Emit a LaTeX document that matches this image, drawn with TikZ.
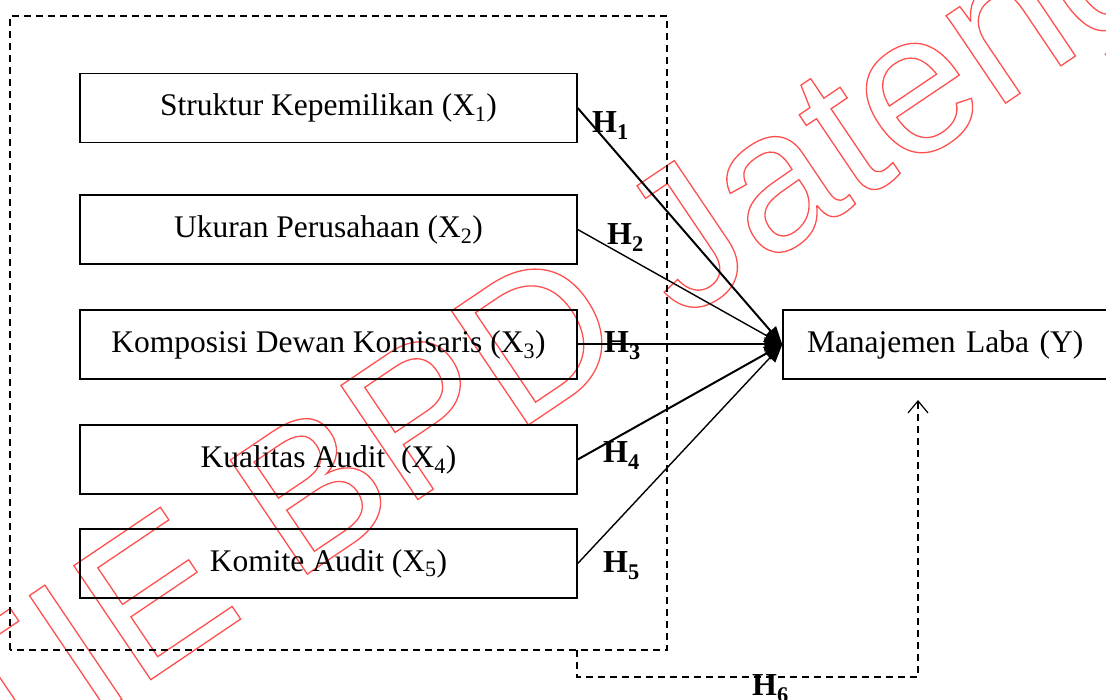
\documentclass[tikz,border=0pt]{standalone}
\usepackage{fontspec}
\setmainfont{Liberation Serif}
\newfontfamily\wmfont{Liberation Sans}
\usetikzlibrary{arrows.meta}
\definecolor{wmred}{RGB}{255,80,80}
\begin{document}
\begin{tikzpicture}[x=1pt,y=1pt,
  varbox/.style={draw, line width=1.4pt, minimum width=497pt, minimum height=69pt, inner sep=0pt,
    font=\fontsize{31.5}{36}\selectfont},
  hlab/.style={anchor=base west, inner sep=0pt, font=\fontsize{32}{36}\selectfont\bfseries},
  thickarr/.style={line width=2pt, -{Triangle[length=18pt,width=14pt]}},
  thinarr/.style={line width=1.4pt, -{Triangle[length=18pt,width=14pt]}},
  dashln/.style={line width=1.3pt, dash pattern=on 7pt off 5pt}
]
\useasboundingbox (0,0) rectangle (1106,699);
\clip (0,0) rectangle (1106,699);

% watermark
\node[rotate=34, anchor=base west, inner sep=0pt, text=wmred,
  font=\wmfont\fontsize{200}{200}\selectfont] (wm) at (-121,-164)
  {\special{pdf:literal direct 1 Tr 1.3 w}STIE BPD Jateng\special{pdf:literal direct 0 Tr}};

% dashed group
\draw[dashln] (10,49) rectangle (667,683);

% boxes
\node[varbox] (x1) at (328.5,591) {Struktur Kepemilikan (X\textsubscript{1})};
\node[varbox] (x2) at (328.5,469.5) {Ukuran Perusahaan (X\textsubscript{2})};
\node[varbox] (x3) at (328.5,354.5) {Komposisi Dewan Komisaris (X\textsubscript{3})};
\node[varbox] (x4) at (328.5,239.5) {Kualitas Audit \ (X\textsubscript{4})};
\node[varbox] (x5) at (328.5,135.5) {Komite Audit (X\textsubscript{5})};
\node[varbox, minimum width=330pt, text width=320pt, align=left] (y) at (948,354.5) {\hspace{19pt}Manajemen Laba (Y)};

% arrows
\draw[thickarr] (x1.east) -- (y.west);
\draw[thinarr] (x2.east) -- (y.west);
\draw[thickarr] (x3.east) -- (y.west);
\draw[thickarr] (x4.east) -- (y.west);
\draw[thinarr] (x5.east) -- (y.west);

% H6 path
\coordinate (h6s) at (577,49);
\coordinate (h6c) at (918,22);
\coordinate (h6e) at (918,299);
\draw[dashln, -{Straight Barb[length=12pt,width=20pt,line width=1.2pt]}] (h6s) |- (h6c) -- (h6e);

% labels
\node[hlab] (h1) at (592,566) {H\textsubscript{1}};
\node[hlab] (h2) at (607,454) {H\textsubscript{2}};
\node[hlab] (h3) at (604,346) {H\textsubscript{3}};
\node[hlab] (h4) at (603,236) {H\textsubscript{4}};
\node[hlab] (h5) at (603,126) {H\textsubscript{5}};
\node[hlab] (h6) at (752,3) {H\textsubscript{6}};
\end{tikzpicture}
\end{document}
